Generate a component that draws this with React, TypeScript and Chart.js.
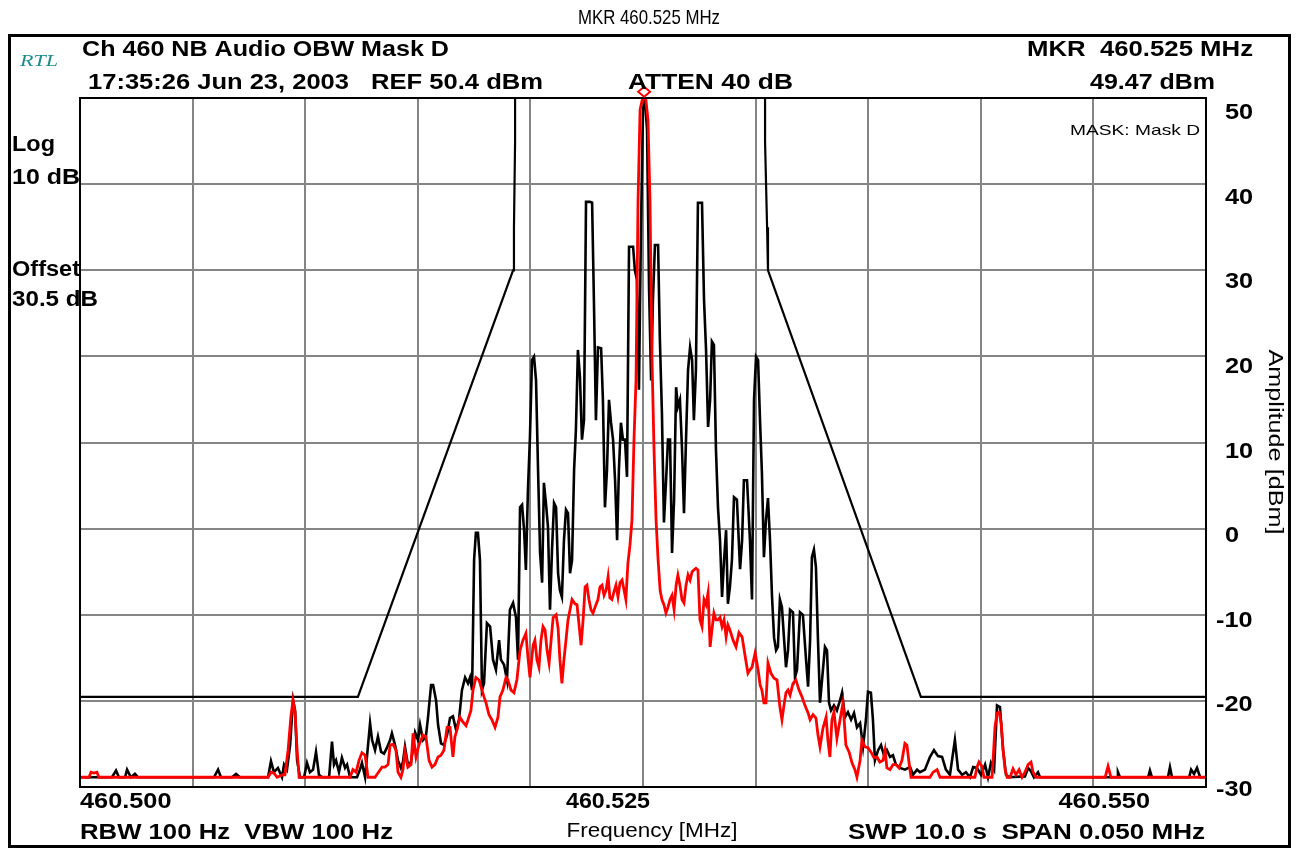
import React, { useEffect, useRef } from "react";
import { Chart, registerables } from "chart.js";

Chart.register(...registerables);

// ---- axis definitions ----
const START_MHZ = 460.5;
const Y_MIN = -29.65;
const Y_MAX = 51.77;
const gridFreqKHz = [0, 5, 10, 15, 20, 25, 30, 35, 40, 45, 50];
const gridDivisions = [0, 1, 2, 3, 4, 5, 6, 7, 8];
const yTickLabels = [50, 40, 30, 20, 10, 0, -10, -20, -30];
const xTickKHz = [0, 25, 50];
const xTickText = ["460.500", "460.525", "460.550"];

// ---- marker ----
const markerKHz = 25.05;
const markerPeakDbm = 51.8;

// ---- mask D (kHz from 460.500 MHz, dBm) ----
const maskTrace: [number, number][] = [
  [0, -19.0], [12.34, -19.0], [19.23, 31.4], [19.27, 36.5], [19.32, 46.6], [19.32, 70],
  [30.42, 70], [30.42, 46.6], [30.51, 36.5], [30.55, 31.4], [37.34, -19.0], [50, -19.0],
];

// ---- max-hold trace (black) ----
const blackTrace: [number, number][] = [
  [0, -28.5], [1.42, -28.5], [1.6, -27.7], [1.73, -28.5], [2.0, -28.5], [2.09, -27.6], [2.26, -28.5], [2.44, -28.1], [2.58, -28.5],
  [5.95, -28.5], [6.13, -27.6], [6.26, -28.5], [6.75, -28.5], [6.93, -28.1], [7.1, -28.5], [8.35, -28.5], [8.48, -26.6], [8.61, -27.9],
  [8.79, -27.4], [8.97, -28.5], [9.06, -27.0], [9.19, -27.6], [9.33, -24.7], [9.46, -19.4], [9.55, -20.6], [9.64, -26.5], [9.77, -28.5],
  [9.95, -28.5], [10.08, -26.8], [10.21, -27.9], [10.35, -27.6], [10.48, -25.5], [10.61, -28.2], [10.75, -28.5], [11.06, -28.5], [11.19, -24.3],
  [11.28, -27.0], [11.37, -26.5], [11.5, -27.9], [11.63, -26.2], [11.77, -27.4], [11.86, -27.0], [11.99, -28.5], [12.3, -28.5], [12.43, -27.6],
  [12.52, -26.8], [12.66, -28.5], [12.79, -24.7], [12.88, -22.1], [12.97, -24.1], [13.1, -25.3], [13.23, -23.7], [13.37, -25.5], [13.5, -25.7],
  [13.63, -25.0], [13.77, -24.1], [13.85, -23.3], [13.99, -24.7], [14.12, -26.5], [14.25, -27.4], [14.34, -26.7], [14.43, -24.9], [14.56, -27.0],
  [14.7, -26.7], [14.88, -23.2], [15.01, -24.1], [15.1, -22.3], [15.23, -24.1], [15.36, -23.7], [15.45, -21.5], [15.59, -17.6], [15.68, -17.6],
  [15.81, -19.4], [15.9, -22.3], [16.03, -24.5], [16.16, -24.7], [16.3, -23.5], [16.43, -21.5], [16.56, -21.3], [16.7, -22.9], [16.83, -21.7],
  [16.96, -18.2], [17.1, -16.7], [17.23, -17.4], [17.32, -16.7], [17.41, -18.2], [17.5, -2.8], [17.58, 0.4], [17.67, 0.4], [17.76, -2.8],
  [17.85, -18.2], [17.94, -17.4], [18.07, -10.3], [18.21, -10.7], [18.34, -14.6], [18.47, -15.8], [18.61, -12.3], [18.69, -14.6], [18.83, -15.2],
  [18.96, -17.0], [19.09, -8.7], [19.23, -7.9], [19.36, -9.6], [19.45, -14.6], [19.54, 3.4], [19.63, 3.7], [19.72, 0.7], [19.8, -4.0],
  [19.89, 5.4], [19.98, 11.7], [20.07, 20.8], [20.16, 21.2], [20.25, 18.4], [20.34, 7.8], [20.43, -2.0], [20.52, -5.5], [20.6, 6.3],
  [20.69, 3.9], [20.78, 1.1], [20.87, -8.7], [20.96, -1.6], [21.05, 3.9], [21.14, 3.4], [21.23, -4.4], [21.31, -6.4], [21.4, -7.2],
  [21.49, -0.5], [21.58, 3.1], [21.67, 2.7], [21.76, -4.4], [21.85, -2.8], [21.94, 7.8], [22.02, 12.5], [22.11, 22.0], [22.2, 18.8],
  [22.29, 11.4], [22.38, 13.7], [22.47, 39.5], [22.65, 39.5], [22.74, 39.4], [22.82, 27.9], [22.91, 13.7], [23.0, 22.3], [23.14, 22.2],
  [23.22, 16.1], [23.31, 3.4], [23.4, 7.8], [23.49, 16.1], [23.58, 13.4], [23.67, 11.4], [23.76, 6.6], [23.85, -0.5], [23.93, 7.8],
  [24.02, 13.4], [24.11, 11.4], [24.2, 11.4], [24.29, 7.0], [24.38, 34.2], [24.56, 34.2], [24.64, 31.4], [24.73, 30.3], [24.82, 17.3],
  [24.91, 36.2], [25.0, 50.4], [25.09, 51.5], [25.18, 48.0], [25.27, 29.1], [25.36, 18.4], [25.44, 27.9], [25.53, 34.4], [25.67, 34.4],
  [25.75, 23.2], [25.84, 14.6], [25.93, 1.6], [26.02, 6.3], [26.11, 11.4], [26.2, 11.4], [26.29, -2.0], [26.38, 4.3], [26.47, 17.6],
  [26.55, 15.3], [26.64, 16.1], [26.73, 10.5], [26.82, 2.7], [26.91, 11.4], [27.0, 19.6], [27.09, 22.3], [27.18, 20.8], [27.26, 13.7],
  [27.35, 19.6], [27.44, 39.4], [27.62, 39.4], [27.71, 27.9], [27.8, 22.0], [27.89, 12.9], [27.98, 16.1], [28.06, 23.0], [28.15, 22.6],
  [28.24, 10.2], [28.33, 3.4], [28.42, -0.5], [28.51, -7.2], [28.6, -2.8], [28.69, 0.7], [28.77, -8.0], [28.86, -6.0], [28.95, -2.8],
  [29.04, 4.6], [29.17, 4.3], [29.31, -3.9], [29.4, -0.5], [29.48, 6.6], [29.62, 6.6], [29.75, -0.5], [29.84, -7.5], [29.93, 16.1],
  [30.02, 21.2], [30.11, 20.8], [30.2, 13.4], [30.28, 7.5], [30.37, -2.5], [30.46, 1.9], [30.55, 4.5], [30.64, -0.5], [30.73, -7.2],
  [30.82, -12.0], [30.91, -13.5], [30.99, -13.1], [31.08, -7.5], [31.17, -8.4], [31.26, -12.0], [31.35, -15.5], [31.44, -13.5], [31.53, -8.7],
  [31.66, -9.0], [31.75, -16.7], [31.84, -15.8], [31.97, -9.0], [32.1, -9.3], [32.24, -14.6], [32.33, -17.8], [32.42, -12.3], [32.5, -2.5],
  [32.59, -1.6], [32.68, -3.7], [32.77, -12.3], [32.86, -19.7], [32.99, -15.8], [33.08, -13.1], [33.17, -13.5], [33.26, -19.7], [33.35, -20.6],
  [33.48, -20.0], [33.61, -20.6], [33.75, -19.4], [33.84, -18.5], [33.97, -21.4], [34.1, -20.8], [34.24, -21.7], [34.37, -20.9], [34.5, -22.6],
  [34.64, -22.1], [34.77, -24.9], [34.9, -21.7], [34.99, -18.4], [35.12, -18.5], [35.21, -21.7], [35.3, -26.5], [35.44, -25.3], [35.57, -24.7],
  [35.7, -25.9], [35.83, -25.3], [35.97, -26.1], [36.1, -25.9], [36.23, -27.0], [36.41, -27.4], [36.63, -27.6], [36.86, -27.3], [36.99, -28.2],
  [37.17, -27.6], [37.3, -27.9], [37.52, -27.6], [37.74, -26.1], [37.92, -25.3], [38.1, -26.0], [38.28, -26.1], [38.45, -27.6], [38.63, -28.2],
  [38.85, -24.1], [38.99, -27.6], [39.17, -28.2], [39.34, -27.9], [39.52, -28.5], [39.66, -27.3], [39.83, -27.4], [40.01, -28.2], [40.19, -27.0],
  [40.32, -28.5], [40.45, -26.8], [40.59, -27.6], [40.72, -20.0], [40.85, -20.2], [40.99, -25.3], [41.12, -28.2], [41.25, -28.5], [41.96, -28.4],
  [42.1, -27.4], [42.23, -27.8], [42.36, -28.5], [42.54, -27.9], [42.63, -28.5], [46.05, -28.5], [46.09, -27.9], [46.18, -28.5], [47.43, -28.5],
  [47.51, -27.7], [47.6, -28.5], [48.31, -28.5], [48.4, -27.3], [48.49, -28.5], [49.25, -28.5], [49.34, -27.6], [49.47, -28.1], [49.6, -27.4],
  [49.74, -28.5], [50.0, -28.5],
];

// ---- clear-write trace (red) ----
const redTrace: [number, number][] = [
  [0, -28.5], [0.4, -28.5], [0.49, -27.9], [0.62, -28.0], [0.75, -27.9], [0.84, -28.5], [8.35, -28.5], [8.48, -27.9], [8.61, -28.0],
  [8.75, -28.5], [9.01, -28.2], [9.1, -28.2], [9.24, -25.3], [9.37, -21.2], [9.46, -19.4], [9.55, -20.8], [9.64, -25.3], [9.73, -28.5],
  [11.99, -28.5], [12.12, -27.6], [12.26, -27.9], [12.39, -26.5], [12.52, -25.6], [12.66, -25.9], [12.79, -28.5], [13.1, -28.5], [13.23, -28.0],
  [13.41, -27.3], [13.54, -27.3], [13.68, -27.0], [13.77, -24.7], [13.9, -24.6], [14.03, -25.3], [14.12, -27.9], [14.25, -28.5], [14.34, -27.6],
  [14.43, -25.5], [14.56, -27.3], [14.7, -27.0], [14.79, -23.3], [14.92, -26.1], [15.05, -24.7], [15.23, -23.5], [15.36, -23.7], [15.5, -26.5],
  [15.63, -27.3], [15.76, -27.0], [15.9, -26.1], [16.03, -25.9], [16.16, -25.3], [16.3, -22.6], [16.43, -22.6], [16.56, -26.1], [16.65, -23.7],
  [16.74, -22.9], [16.87, -21.4], [17.01, -22.0], [17.14, -22.4], [17.23, -21.7], [17.36, -20.6], [17.45, -18.2], [17.58, -16.7], [17.72, -17.0],
  [17.85, -18.2], [17.94, -19.0], [18.03, -19.7], [18.16, -21.1], [18.29, -21.7], [18.43, -22.6], [18.56, -21.4], [18.65, -19.0], [18.78, -18.2],
  [18.92, -16.7], [19.0, -17.0], [19.14, -18.2], [19.27, -18.5], [19.4, -17.0], [19.54, -13.5], [19.67, -12.3], [19.8, -11.5], [19.89, -14.3],
  [19.98, -16.7], [20.12, -12.9], [20.2, -12.3], [20.29, -14.6], [20.38, -15.5], [20.47, -12.3], [20.56, -10.7], [20.65, -11.1], [20.74, -13.5],
  [20.83, -15.0], [20.92, -12.3], [21.01, -9.6], [21.14, -9.3], [21.23, -10.9], [21.31, -14.6], [21.4, -17.4], [21.49, -14.6], [21.58, -12.3],
  [21.67, -9.9], [21.76, -8.7], [21.85, -7.5], [21.98, -8.0], [22.07, -8.1], [22.16, -10.5], [22.25, -12.9], [22.34, -9.9], [22.43, -6.0],
  [22.51, -5.8], [22.6, -7.5], [22.69, -8.7], [22.78, -9.1], [22.91, -8.1], [23.0, -7.5], [23.09, -6.0], [23.18, -5.8], [23.27, -7.0],
  [23.36, -6.4], [23.45, -4.8], [23.53, -7.3], [23.62, -7.5], [23.71, -6.6], [23.8, -5.8], [23.89, -7.2], [23.98, -5.5], [24.07, -5.2],
  [24.16, -6.4], [24.24, -7.5], [24.33, -3.2], [24.42, -1.1], [24.51, 1.9], [24.6, 11.4], [24.69, 18.4], [24.78, 39.7], [24.87, 50.4],
  [24.96, 51.5], [25.05, 51.8], [25.13, 51.5], [25.22, 49.2], [25.31, 39.7], [25.4, 20.8], [25.49, 10.2], [25.58, 1.9], [25.67, -2.8],
  [25.76, -6.4], [25.84, -7.5], [25.93, -8.1], [26.02, -9.1], [26.11, -8.4], [26.2, -7.5], [26.29, -7.0], [26.38, -8.7], [26.47, -5.8],
  [26.55, -4.6], [26.64, -5.8], [26.73, -7.5], [26.82, -7.9], [26.91, -5.8], [27.0, -4.6], [27.09, -5.2], [27.18, -4.2], [27.26, -4.0],
  [27.35, -3.8], [27.44, -4.0], [27.53, -9.9], [27.62, -10.7], [27.71, -7.5], [27.8, -8.1], [27.89, -6.7], [27.98, -13.1], [28.06, -11.1],
  [28.15, -9.1], [28.24, -9.9], [28.33, -9.9], [28.42, -9.6], [28.51, -10.7], [28.6, -9.9], [28.69, -11.9], [28.77, -10.5], [28.86, -11.1],
  [29.0, -12.3], [29.13, -13.1], [29.26, -11.4], [29.4, -11.9], [29.53, -14.1], [29.66, -16.2], [29.75, -15.8], [29.84, -15.5], [29.98, -13.8],
  [30.11, -15.8], [30.2, -17.6], [30.28, -18.2], [30.37, -19.7], [30.46, -19.7], [30.55, -15.0], [30.68, -16.2], [30.82, -16.8], [30.95, -17.0],
  [31.08, -20.2], [31.17, -21.7], [31.26, -20.0], [31.35, -18.5], [31.44, -18.2], [31.53, -18.8], [31.66, -17.4], [31.79, -17.0], [31.93, -18.2],
  [32.06, -19.0], [32.19, -20.0], [32.33, -20.9], [32.42, -21.7], [32.55, -21.1], [32.68, -21.5], [32.77, -23.5], [32.86, -24.9], [32.99, -22.7],
  [33.13, -21.4], [33.21, -24.1], [33.3, -26.1], [33.39, -21.7], [33.48, -20.8], [33.61, -23.9], [33.75, -21.7], [33.88, -19.7], [34.01, -24.7],
  [34.15, -25.5], [34.28, -26.8], [34.41, -27.6], [34.5, -28.5], [34.64, -26.5], [34.72, -24.1], [34.86, -24.9], [34.99, -25.0], [35.12, -25.5],
  [35.26, -26.2], [35.39, -26.1], [35.52, -26.7], [35.66, -26.5], [35.75, -25.3], [35.83, -27.4], [35.97, -27.6], [36.1, -27.0], [36.23, -27.0],
  [36.37, -27.4], [36.5, -26.5], [36.63, -24.5], [36.72, -24.7], [36.81, -26.7], [36.9, -28.5], [37.74, -28.5], [37.88, -27.9], [38.06, -27.6],
  [38.19, -28.5], [39.74, -28.5], [39.83, -27.3], [39.92, -26.7], [40.05, -27.2], [40.14, -28.5], [40.5, -28.5], [40.63, -22.6], [40.72, -20.9],
  [40.81, -20.8], [40.9, -22.0], [40.99, -25.3], [41.08, -27.6], [41.17, -28.5], [41.3, -28.5], [41.43, -27.5], [41.56, -28.2], [41.7, -27.6],
  [41.83, -28.5], [41.96, -27.9], [42.1, -27.0], [42.23, -26.7], [42.32, -27.9], [42.45, -28.5], [45.52, -28.5], [45.65, -27.2], [45.78, -28.5],
  [50.0, -28.5],
];

const toPoints = (trace: [number, number][]) =>
  trace.map(([k, d]) => ({ x: START_MHZ + k / 1000, y: d }));

const BOLD = 'bold 22px "Liberation Sans", Arial, Helvetica, sans-serif';
const REG = '20px "Liberation Sans", Arial, Helvetica, sans-serif';

type TxtOpts = {
  font: string;
  color?: string;
  align?: CanvasTextAlign;
  width?: number;
  sx?: number;
  rotate?: number;
};

function txt(ctx: CanvasRenderingContext2D, s: string, x: number, y: number, o: TxtOpts) {
  ctx.save();
  ctx.font = o.font;
  ctx.fillStyle = o.color || "#000";
  ctx.textBaseline = "middle";
  ctx.textAlign = o.align || "left";
  const w = ctx.measureText(s).width;
  const sx = o.width ? o.width / w : o.sx || 1;
  ctx.translate(x, y);
  if (o.rotate) ctx.rotate(o.rotate);
  ctx.scale(sx, 1);
  ctx.fillText(s, 0, 0);
  ctx.restore();
}

const decorPlugin = {
  id: "decor",
  beforeDraw(chart: any) {
    const ctx = chart.ctx as CanvasRenderingContext2D;
    ctx.save();
    ctx.fillStyle = "#fff";
    ctx.fillRect(0, 0, chart.width, chart.height);
    ctx.restore();
  },
  afterDraw(chart: any) {
    const ctx = chart.ctx as CanvasRenderingContext2D;
    const a = chart.chartArea;
    const xs = chart.scales.x;
    const ys = chart.scales.y;
    ctx.save();
    ctx.strokeStyle = "#000";
    ctx.lineWidth = 2;
    ctx.strokeRect(a.left, a.top, a.right - a.left, a.bottom - a.top);
    ctx.lineWidth = 3;
    ctx.strokeRect(9.5, 35.5, 1280, 811);
    ctx.restore();

    // marker diamond
    const mx = xs.getPixelForValue(START_MHZ + markerKHz / 1000);
    const my = ys.getPixelForValue(markerPeakDbm) - 6;
    ctx.save();
    ctx.beginPath();
    ctx.moveTo(mx, my - 5);
    ctx.lineTo(mx + 6, my);
    ctx.lineTo(mx, my + 5);
    ctx.lineTo(mx - 6, my);
    ctx.closePath();
    ctx.fillStyle = "#fff";
    ctx.fill();
    ctx.strokeStyle = "#ff0000";
    ctx.lineWidth = 2;
    ctx.stroke();
    ctx.restore();

    // texts
    txt(ctx, "MKR 460.525 MHz", 649, 18, { font: '21px "Liberation Sans", Arial, sans-serif', align: "center", width: 142 });
    txt(ctx, "RTL", 20, 62, { font: 'italic 17px "Liberation Serif", "Times New Roman", serif', color: "#1c8c8c", width: 38 });
    txt(ctx, "Ch 460 NB Audio OBW Mask D", 82, 50, { font: BOLD, width: 367 });
    txt(ctx, "17:35:26 Jun 23, 2003", 88, 83, { font: BOLD, width: 261 });
    txt(ctx, "REF 50.4 dBm", 371, 83, { font: BOLD, width: 172 });
    txt(ctx, "ATTEN 40 dB", 628, 83, { font: BOLD, width: 165 });
    txt(ctx, "MKR  460.525 MHz", 1253, 50, { font: BOLD, align: "right", width: 226 });
    txt(ctx, "49.47 dBm", 1215, 83, { font: BOLD, align: "right", width: 125 });
    txt(ctx, "Log", 12, 145, { font: BOLD, width: 43 });
    txt(ctx, "10 dB", 12, 178, { font: BOLD, width: 68 });
    txt(ctx, "Offset", 12, 270, { font: BOLD, width: 68 });
    txt(ctx, "30.5 dB", 12, 300, { font: BOLD, width: 86 });
    txt(ctx, "MASK: Mask D", 1200, 131, { font: '15px "Liberation Sans", Arial, sans-serif', align: "right", width: 130 });
    txt(ctx, "RBW 100 Hz  VBW 100 Hz", 80, 833, { font: BOLD, width: 313 });
    txt(ctx, "SWP 10.0 s  SPAN 0.050 MHz", 1205, 833, { font: BOLD, align: "right", width: 357 });
    txt(ctx, "Frequency [MHz]", 652, 831, { font: REG, align: "center", width: 171 });
    txt(ctx, "Amplitude [dBm]", 1275, 442, { font: REG, align: "center", width: 185, rotate: Math.PI / 2 });

    // y tick labels (right side)
    yTickLabels.forEach((v) => {
      const py = ys.getPixelForValue(v);
      txt(ctx, String(v), v < 0 ? 1216 : 1225, py, { font: BOLD, sx: 1.15 });
    });
    // x tick labels
    xTickKHz.forEach((k, i) => {
      const px = xs.getPixelForValue(START_MHZ + k / 1000);
      if (i === 0) txt(ctx, xTickText[i], px, 802, { font: BOLD, sx: 1.15 });
      else if (i === 1) txt(ctx, xTickText[i], px + 7, 802, { font: BOLD, align: "right", width: 84 });
      else txt(ctx, xTickText[i], px - 56, 802, { font: BOLD, align: "right", sx: 1.15 });
    });
  },
};

export default function App() {
  const ref = useRef<HTMLCanvasElement | null>(null);
  useEffect(() => {
    document.body.style.margin = "0";
    const canvas = ref.current;
    if (!canvas) return;
    const chart = new Chart(canvas, {
      type: "line",
      data: {
        datasets: [
          {
            label: "Clear write",
            data: toPoints(redTrace),
            borderColor: "#ff0000",
            borderWidth: 2.8,
            pointRadius: 0,
            tension: 0,
            fill: false,
          },
          {
            label: "Max hold",
            data: toPoints(blackTrace),
            borderColor: "#000000",
            borderWidth: 2.6,
            pointRadius: 0,
            tension: 0,
            fill: false,
          },
          {
            label: "Mask D",
            data: toPoints(maskTrace),
            borderColor: "#000000",
            borderWidth: 2.2,
            pointRadius: 0,
            tension: 0,
            fill: false,
          },
        ],
      },
      options: {
        responsive: false,
        devicePixelRatio: 1,
        animation: false,
        events: [],
        layout: { padding: { left: 80, top: 98, right: 92, bottom: 64 } },
        plugins: { legend: { display: false }, tooltip: { enabled: false }, title: { display: false } },
        scales: {
          x: {
            type: "linear",
            min: START_MHZ,
            max: START_MHZ + 0.05,
            afterBuildTicks: (s: any) => {
              s.ticks = gridFreqKHz.map((k) => ({ value: START_MHZ + k / 1000 }));
            },
            ticks: { display: false },
            grid: { color: "#858585", lineWidth: 2, drawTicks: false },
            border: { display: false },
          },
          y: {
            type: "linear",
            display: false,
            min: Y_MIN,
            max: Y_MAX,
          },
          yGrid: {
            type: "linear",
            position: "left",
            min: 0,
            max: 8,
            afterBuildTicks: (s: any) => {
              s.ticks = gridDivisions.map((v) => ({ value: v }));
            },
            ticks: { display: false },
            grid: { color: "#858585", lineWidth: 2, drawTicks: false },
            border: { display: false },
          },
        },
      },
      plugins: [decorPlugin],
    } as any);
    return () => chart.destroy();
  }, []);
  return <canvas ref={ref} width={1298} height={851} style={{ display: "block" }} />;
}
